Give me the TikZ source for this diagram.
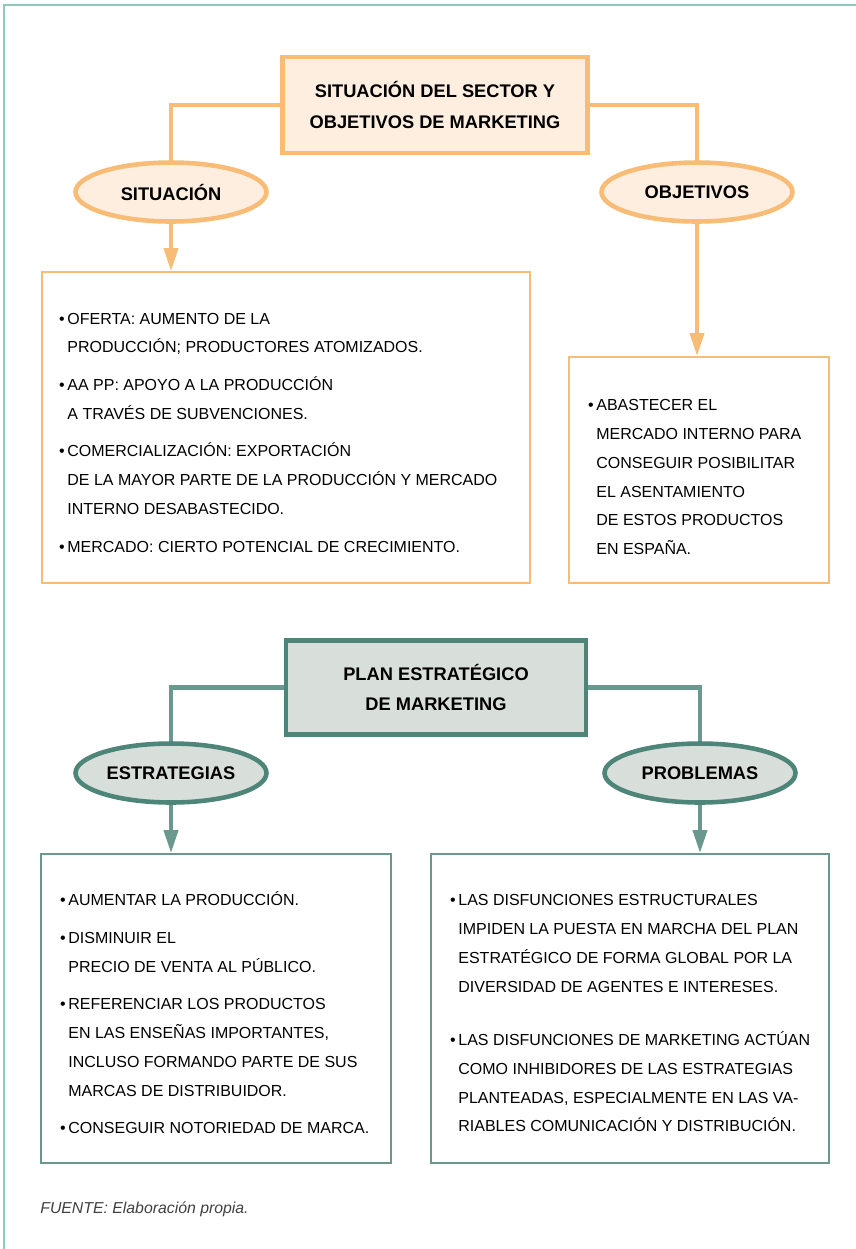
\documentclass[tikz,border=0pt]{standalone}
\usepackage{fontspec}
\setmainfont{Liberation Sans}
\usetikzlibrary{arrows.meta,positioning,shapes.geometric}

\definecolor{naranja}{RGB}{248,188,118}
\definecolor{melocoton}{RGB}{253,238,223}
\definecolor{verde}{RGB}{78,133,121}
\definecolor{verdeclaro}{RGB}{106,152,142}
\definecolor{gris}{RGB}{216,222,218}
\definecolor{marco}{RGB}{140,200,192}

\begin{document}
\begin{tikzpicture}[x=0.02cm, y=-0.02cm,
  titulo/.style={draw, line width=2.6pt, align=center, inner sep=0pt,
    font=\bfseries\fontsize{10.4}{17.6}\selectfont},
  elipse/.style={ellipse, draw, line width=2.6pt, inner sep=0pt,
    minimum width=3.82cm, minimum height=1.18cm,
    font=\bfseries\fontsize{10.4}{12}\selectfont},
  caja/.style={draw, line width=1.1pt, inner sep=0pt},
  texto/.style={align=left, inner sep=0pt, anchor=north west,
    font=\fontsize{9.1}{16.4}\selectfont},
  conector/.style={line width=2.3pt},
  flecha/.style={line width=2.3pt, -{Triangle[length=0.46cm, width=0.28cm]}},
]
\useasboundingbox (0,0) rectangle (856,1249);

% marco
\draw[marco, line width=1.3pt] (4,1249) |- (856,5);

% parte superior
\node[titulo, draw=naranja, fill=melocoton, minimum width=6.1cm, minimum height=1.92cm] (sector) at (435,105) {SITUACIÓN DEL SECTOR Y\\OBJETIVOS DE MARKETING};
\node[elipse, draw=naranja, fill=melocoton] (sit) at (171,192) {SITUACIÓN};
\node[elipse, draw=naranja, fill=melocoton] (obj) at (697,192) {OBJETIVOS};

\node[caja, draw=naranja, minimum width=9.76cm, minimum height=6.22cm] (sitbox) at (286,427.5) {};
\node[caja, draw=naranja, minimum width=5.2cm, minimum height=4.52cm] (objbox) at (699,470) {};

\draw[conector, naranja] (sector.west) -| (sit.north);
\draw[conector, naranja] (sector.east) -| (obj.north);
\draw[flecha, naranja] (sit.south) -- (sit.south |- sitbox.north);
\draw[flecha, naranja] (obj.south) -- (obj.south |- objbox.north);

\node[texto, below right=0.83cm and 0.52cm of sitbox.north west] (sittext) {\llap{•\,}OFERTA: AUMENTO DE LA\\
PRODUCCIÓN; PRODUCTORES ATOMIZADOS.\\[5pt]
\llap{•\,}AA PP: APOYO A LA PRODUCCIÓN\\
A TRAVÉS DE SUBVENCIONES.\\[5pt]
\llap{•\,}COMERCIALIZACIÓN: EXPORTACIÓN\\
DE LA MAYOR PARTE DE LA PRODUCCIÓN Y MERCADO\\
INTERNO DESABASTECIDO.\\[5pt]
\llap{•\,}MERCADO: CIERTO POTENCIAL DE CRECIMIENTO.};

\node[texto, below right=0.86cm and 0.56cm of objbox.north west] (objtext) {\llap{•\,}ABASTECER EL\\
MERCADO INTERNO PARA\\
CONSEGUIR POSIBILITAR\\
EL ASENTAMIENTO\\
DE ESTOS PRODUCTOS\\
EN ESPAÑA.};

% parte inferior
\node[titulo, draw=verde, fill=gris, minimum width=6.0cm, minimum height=1.88cm] (plan) at (436,687.5) {PLAN ESTRATÉGICO\\DE MARKETING};
\node[elipse, draw=verde, fill=gris] (est) at (171,773) {ESTRATEGIAS};
\node[elipse, draw=verde, fill=gris] (prob) at (700,773) {PROBLEMAS};

\node[caja, draw=verdeclaro, minimum width=7.0cm, minimum height=6.18cm] (estbox) at (216,1008.5) {};
\node[caja, draw=verdeclaro, minimum width=7.96cm, minimum height=6.18cm] (probbox) at (630,1008.5) {};

\draw[conector, verdeclaro] (plan.west) -| (est.north);
\draw[conector, verdeclaro] (plan.east) -| (prob.north);
\draw[flecha, verdeclaro] (est.south) -- (est.south |- estbox.north);
\draw[flecha, verdeclaro] (prob.south) -- (prob.south |- probbox.north);

\node[texto, below right=0.77cm and 0.56cm of estbox.north west] (esttext) {\llap{•\,}AUMENTAR LA PRODUCCIÓN.\\[5pt]
\llap{•\,}DISMINUIR EL\\
PRECIO DE VENTA AL PÚBLICO.\\[5pt]
\llap{•\,}REFERENCIAR LOS PRODUCTOS\\
EN LAS ENSEÑAS IMPORTANTES,\\
INCLUSO FORMANDO PARTE DE SUS\\
MARCAS DE DISTRIBUIDOR.\\[5pt]
\llap{•\,}CONSEGUIR NOTORIEDAD DE MARCA.};

\node[texto, below right=0.82cm and 0.56cm of probbox.north west] (probtext) {\llap{•\,}LAS DISFUNCIONES ESTRUCTURALES\\
IMPIDEN LA PUESTA EN MARCHA DEL PLAN\\
ESTRATÉGICO DE FORMA GLOBAL POR LA\\
DIVERSIDAD DE AGENTES E INTERESES.\\[14pt]
\llap{•\,}LAS DISFUNCIONES DE MARKETING ACTÚAN\\
COMO INHIBIDORES DE LAS ESTRATEGIAS\\
PLANTEADAS, ESPECIALMENTE EN LAS VA-\\
RIABLES COMUNICACIÓN Y DISTRIBUCIÓN.};

\node[anchor=base west, inner sep=0pt, font=\itshape\fontsize{9}{11}\selectfont, text=black!75] (fuente) at (40,1213) {FUENTE: Elaboración propia.};

\end{tikzpicture}
\end{document}
